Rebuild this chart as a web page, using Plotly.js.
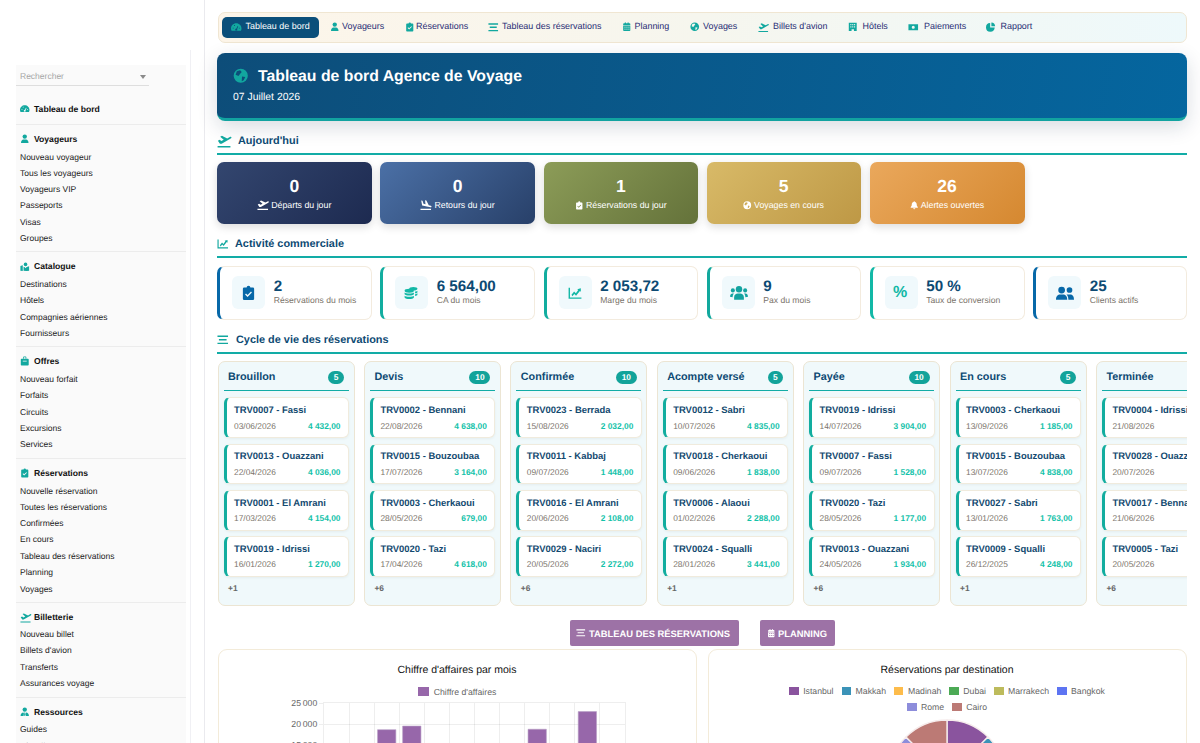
<!DOCTYPE html>
<html lang="fr"><head><meta charset="utf-8"><title>Tableau de bord Agence de Voyage</title>
<script src="https://cdn.plot.ly/plotly-3.0.1.min.js"></script>
<style>
html,body{margin:0;padding:0;background:#fff;width:1200px;height:743px;overflow:hidden;font-family:"Liberation Sans",Arial,sans-serif;text-rendering:geometricPrecision}
#root{position:absolute;left:0;top:0;width:1200px;height:743px;overflow:hidden}
.b{position:absolute;box-sizing:border-box}
.t{position:absolute;white-space:nowrap;line-height:1;transform:translateY(calc(-50% + .7px))}
.lg{position:absolute;display:flex;flex-wrap:wrap;justify-content:center;font-size:8.7px;color:#666;line-height:16px}
.lg span{display:flex;align-items:center;margin:0 4px;white-space:nowrap}
.lg i{display:inline-block;width:9.5px;height:8px;margin-right:4.5px}
svg{position:absolute;display:block;overflow:visible}
</style></head><body><div id="root"></div>
<script>
// ---- chart data ----
const months = ["Jan","Fév","Mar","Avr","Mai","Juin","Juil","Août","Sep","Oct","Nov","Déc"];
const revenue = [null,null,18650,19500,null,null,null,null,18750,null,22950,null];
const destinations = ["Istanbul","Makkah","Madinah","Dubai","Marrakech","Bangkok","Rome","Cairo"];
const destinationCounts = [1,1,1,1,1,1,1,1];
const destinationColors = ["#8a549e","#3b93b8","#fdbc4b","#4caa55","#bdbb5c","#5d74f2","#8d8ddb","#bc7a75"];
// ---- page text ----
const navLabels = ["Tableau de bord","Voyageurs","Réservations","Tableau des réservations","Planning","Voyages","Billets d'avion","Hôtels","Paiements","Rapport"];
const navIcons = ["gauge","user","clip","bars","cal","globe","dep","hotel","money","pie"];
const navIconX = [231,330,405,488,622,690,758,848,908,986];
const navTextX = [245.5,342,416,502,634.5,703,773,862.5,924,1000.5];
const todayValues = ["0","0","1","5","26"];
const todayLabels = ["Départs du jour","Retours du jour","Réservations du jour","Voyages en cours","Alertes ouvertes"];
const todayIcons = ["dep","arr","clip","globe","bell"];
const todayFrom = ["#33466f","#4b70a6","#8c9c58","#d8ba68","#eaa85c"];
const todayTo = ["#1d2a50","#284069","#64723a","#be9845","#d58830"];
const kpiValues = ["2","6 564,00","2 053,72","9","50 %","25"];
const kpiLabels = ["Réservations du mois","CA du mois","Marge du mois","Pax du mois","Taux de conversion","Clients actifs"];
const kpiIcons = ["clip","coins","line","group","pct","users"];
const kpiColors = ["#0768a8","#12ad9f","#12ad9f","#12a89d","#12b8a6","#0768a8"];
const cardX = [217,380,543.5,706.5,869.5,1033];
const cardW = [154.5,155,154.5,154,155,154];
const stageNames = ["Brouillon","Devis","Confirmée","Acompte versé","Payée","En cours","Terminée"];
const stageCounts = ["5","10","10","5","10","5","10"];
const stageMore = ["+1","+6","+6","+1","+6","+1","+6"];
const stageTitles = [
 ["TRV0007 - Fassi","TRV0013 - Ouazzani","TRV0001 - El Amrani","TRV0019 - Idrissi"],
 ["TRV0002 - Bennani","TRV0015 - Bouzoubaa","TRV0003 - Cherkaoui","TRV0020 - Tazi"],
 ["TRV0023 - Berrada","TRV0011 - Kabbaj","TRV0016 - El Amrani","TRV0029 - Naciri"],
 ["TRV0012 - Sabri","TRV0018 - Cherkaoui","TRV0006 - Alaoui","TRV0024 - Squalli"],
 ["TRV0019 - Idrissi","TRV0007 - Fassi","TRV0020 - Tazi","TRV0013 - Ouazzani"],
 ["TRV0003 - Cherkaoui","TRV0015 - Bouzoubaa","TRV0027 - Sabri","TRV0009 - Squalli"],
 ["TRV0004 - Idrissi","TRV0028 - Ouazzani","TRV0017 - Bennani","TRV0005 - Tazi"]];
const stageDates = [
 ["03/06/2026","22/04/2026","17/03/2026","16/01/2026"],
 ["22/08/2026","17/07/2026","28/05/2026","17/04/2026"],
 ["15/08/2026","09/07/2026","20/06/2026","20/05/2026"],
 ["10/07/2026","09/06/2026","01/02/2026","28/01/2026"],
 ["14/07/2026","09/07/2026","28/05/2026","24/05/2026"],
 ["13/09/2026","13/07/2026","13/01/2026","26/12/2025"],
 ["21/08/2026","20/07/2026","21/06/2026","20/05/2026"]];
const stageAmounts = [
 ["4 432,00","4 036,00","4 154,00","1 270,00"],
 ["4 638,00","3 164,00","679,00","4 618,00"],
 ["2 032,00","1 448,00","2 108,00","2 272,00"],
 ["4 835,00","1 838,00","2 288,00","3 441,00"],
 ["3 904,00","1 528,00","1 177,00","1 934,00"],
 ["1 185,00","4 838,00","1 763,00","4 248,00"],
 ["","","",""]];
const menuHeads = ["Tableau de bord","Voyageurs","Catalogue","Offres","Réservations","Billetterie","Ressources"];
const menuHeadIcons = ["gauge","user","map","case","clip","dep","tie"];
const menuHeadY = [109,139,266.5,361,473,617,712];
const menuDividerY = [124,251,346,458,602,697];
const menuItems = ["Nouveau voyageur","Tous les voyageurs","Voyageurs VIP","Passeports","Visas","Groupes","Destinations","Hôtels","Compagnies aériennes","Fournisseurs","Nouveau forfait","Forfaits","Circuits","Excursions","Services","Nouvelle réservation","Toutes les réservations","Confirmées","En cours","Tableau des réservations","Planning","Voyages","Nouveau billet","Billets d'avion","Transferts","Assurances voyage","Guides","Chauffeurs"];
const menuItemY = [157,173,189,205.5,222,238.5,284,300.5,317,333.5,379,395.5,412,428.5,444.5,491,507,523.5,539.5,556,572.5,589,634,650.5,667,683.5,729.5,746];

const IC = {
 gauge:'<path fill-rule="evenodd" d="M12 3C5.400 3 0 8.400 0 15c0 2 .5 3.800 1.400 5h21.200c.9-1.200 1.400-3 1.400-5 0-6.600-5.400-12-12-12zM10 16a2.300 2.300 0 1 0 4 0l2.500-6-1.500-.6-2.500 5.300h-.8zM4 13h2v2H4zM18 13h2v2h-2zM7 7h2v2H7z"/>',
 user:'<circle cx="12" cy="6.500" r="5.500"/><path d="M2.500 23c0-6 3-9 6-9h7c3 0 6 3 6 9z"/>',
 clip:'<path fill-rule="evenodd" d="M5 4h4a3 3 0 0 1 6 0h4a2 2 0 0 1 2 2v16a2 2 0 0 1-2 2H5a2 2 0 0 1-2-2V6a2 2 0 0 1 2-2zM10.500 19l-4-4 1.500-1.500 2.500 2.500 5.500-5.500 1.500 1.500z"/>',
 bars:'<path d="M1 3h22v3H1zM4 10.500h16v3H4zM1 18h22v3H1z"/>',
 cal:'<path fill-rule="evenodd" d="M3 9h18v12a2 2 0 0 1-2 2H5a2 2 0 0 1-2-2zM6 12v2h3v-2zM11 12v2h3v-2zM16 12v2h3v-2zM6 17v2h3v-2zM11 17v2h3v-2zM16 17v2h3v-2z"/><path d="M3 7.500V5a2 2 0 0 1 2-2h2V1h3v2h4V1h3v2h2a2 2 0 0 1 2 2v2.500z"/>',
 globe:'<path fill-rule="evenodd" d="M12 1a11 11 0 1 0 0 22 11 11 0 0 0 0-22zM6 5l5-1.500 2.500 2.500-3 3.500-2 3-4.500-2zM14 13l5 1-2.500 5-3 1.500z"/>',
 dep:'<path d="M1 20.500h22V23H1zM1.500 11.500l3-1.500 3 2 4-2-6-5.500 3-1.500 9 4.500 4.500-2.500c1.500-.8 2.500-.2 2.800.7.200.8-.3 1.500-1.300 2L8 16.500H5z"/>',
 arr:'<path d="M1 20.500h22V23H1zM2.500 3l2.800.8 2 6 4.200 1.200-1-8.500 2.800.8 5 9.700 4.200 1.200c1.500.4 1.700 1.600 1.300 2.300-.4.700-1.200.9-2.200.6L4.500 13.500z"/>',
 hotel:'<path fill-rule="evenodd" d="M2 2h20v21h-7v-5H9v5H2zM6 5v3h2.500V5zM10.800 5v3h2.500V5zM15.500 5v3H18V5zM6 11v3h2.500v-3zM10.800 11v3h2.500v-3zM15.500 11v3H18v-3z"/>',
 money:'<path fill-rule="evenodd" d="M1 5h22v14H1zM12 8.500a3.500 3.500 0 1 0 0 7 3.500 3.500 0 0 0 0-7z"/>',
 pie:'<path d="M10.500 2.500v11.500h11.500A11 11 0 1 1 10.500 2.500z"/><path d="M13.500 1a10 10 0 0 1 9.500 9.500h-9.500z"/>',
 bell:'<path d="M12 1a2 2 0 0 1 2 1.900c3.500.9 5 3.600 5 7.100 0 4 1.500 5.500 3 7v2H2v-2c1.500-1.500 3-3 3-7 0-3.500 1.500-6.200 5-7.100A2 2 0 0 1 12 1zM9 20.500h6a3 3 0 0 1-6 0z"/>',
 coins:'<ellipse cx="9" cy="8" rx="8" ry="3.400"/><ellipse cx="16" cy="4.500" rx="7" ry="3"/><path d="M1 11c2 2.500 14 2.500 16 0v3c-2 3-14 3-16 0zM1 16.500c2 2.500 14 2.500 16 0v3c-2 3.500-14 3.500-16 0zM19 9.500c2 0 4-1 4-2v3c0 1-2 2-4 2zM19 14c2 0 4-1 4-2v3c0 1-2 2-4 2z"/>',
 line:'<path d="M1 3h2.400v16.500H23V22H1zM6 15l4.500-5.500 3 3 4-5.500-1.700-1.500L22 4v6l-1.600-1.500-6.600 8-3-3-3.200 4z"/>',
 group:'<circle cx="12" cy="7" r="4.300"/><circle cx="3.800" cy="8.500" r="2.700"/><circle cx="20.200" cy="8.500" r="2.700"/><path d="M5.500 21v-3.500c0-3 2.500-4.800 5-4.800h3c2.500 0 5 1.800 5 4.800V21zM0 17c0-3 1.500-4.500 3.500-4.500h1.800C4 14 3.500 15.500 3.500 17.500zM24 17c0-3-1.500-4.500-3.500-4.500h-1.800c1.300 1.500 1.800 3 1.800 5z"/>',
 users:'<circle cx="7.500" cy="8" r="4.500"/><circle cx="18" cy="8" r="3.800"/><path d="M0 21c0-5 2.500-7 5.500-7h4c3 0 5.500 2 5.500 7zM16.500 21c0-3-.8-5.300-2.500-7h5c2.800 0 5 2 5 7z"/>',
 map:'<circle cx="14" cy="6" r="4.500"/><path d="M1 10l6-2v15l-6-1zM9 12l3 1 2 3 2-3 3-1 4-1v11l-6 1-8-1z"/>',
 case:'<path fill-rule="evenodd" d="M4 7h16a2 2 0 0 1 2 2v13a2 2 0 0 1-2 2H4a2 2 0 0 1-2-2V9a2 2 0 0 1 2-2zM7 12v2h10v-2z"/><path d="M8 7V3a2 2 0 0 1 2-2h4a2 2 0 0 1 2 2v4h-2V3h-4v4z"/>',
 tie:'<circle cx="12" cy="6.500" r="5.500"/><path d="M1.500 23c0-6 3-9 7-9l1.500 2.500-1 6.500zM22.500 23c0-6-3-9-7-9L14 16.500l1 6.500zM10.700 14h2.600l-.3 2 .8 5-1.800 2-1.800-2 .8-5z"/>'
};
const root = document.getElementById('root');
function box(x,y,w,h,css,parent){const d=document.createElement('div');d.className='b';d.style.cssText=`left:${x}px;top:${y}px;width:${w}px;height:${h}px;${css||''}`;(parent||root).appendChild(d);return d;}
function txt(x,y,s,size,color,bold,extra,parent){const d=document.createElement('div');d.className='t';d.textContent=s;d.style.cssText=`left:${x}px;top:${y}px;font-size:${size}px;color:${color};font-weight:${bold?700:400};${extra||''}`;(parent||root).appendChild(d);return d;}
function ctr(x,y,w,s,size,color,bold){return txt(x,y,s,size,color,bold,`width:${w}px;text-align:center`);}
function icon(name,x,cy,w,color,parent){const d=document.createElementNS('http://www.w3.org/2000/svg','svg');d.setAttribute('viewBox','0 0 24 24');d.setAttribute('width',w);d.setAttribute('height',w);d.style.cssText=`left:${x}px;top:${cy-w/2}px;fill:${color}`;d.innerHTML=IC[name];(parent||root).appendChild(d);return d;}

const TEAL='#12aca6',NAVY='#0d4a73';
// sidebar
box(16,65,170,690,'background:#fafafa');
box(190,50,1,693,'background:#f0f0f4');
box(203.500,0,1,743,'background:#eaeaee');
txt(20,75.500,'Rechercher',8.500,'#a6a6a6');
box(16,84.500,133,1,'background:#dedede');
box(139.500,74.500,0,0,'border-left:3px solid transparent;border-right:3px solid transparent;border-top:4px solid #8a8a8a');
menuDividerY.forEach(y=>box(16,y,170,1,'background:#ececec'));
menuHeads.forEach((h,i)=>{icon(menuHeadIcons[i],20,menuHeadY[i],i==5?11:9.500,'#12a89f');txt(34,menuHeadY[i]-.5,h,8.600,'#111',true);});
menuItems.forEach((h,i)=>txt(20,menuItemY[i]-.5,h,8.500,'#222'));
// nav
box(217.500,12,969.500,30.500,'border:1px solid #f0e6d2;border-radius:7px;background:linear-gradient(90deg,#fdf5e9,#f6f6ee 50%,#eef9fb)');
box(222,16.500,97,21,'background:#0b4f7a;border-radius:5px');
navLabels.forEach((n,i)=>{icon(navIcons[i],navIconX[i],27,i==6||i==8||i==3||i==0?10.500:9.500,'#12a89f');txt(navTextX[i],26.200,n,8.950,i==0?'#fff':'#272c74');});
// hero
box(217,53,970,68,'background:linear-gradient(100deg,#0d4d79,#05669f);border-radius:8px;border-bottom:3px solid #12a3a0;box-shadow:0 6px 20px rgba(20,40,70,.16)');
icon('globe',233,75.500,15.500,'#12a69f');
txt(258,75.800,"Tableau de bord Agence de Voyage",15.800,'#fff',true);
txt(233,98,"07 Juillet 2026",10.400,'#fff');
// section heads
function section(name,ic,ix,iw,tx,y,ly){icon(ic,ix,y,iw,'#12a89f');txt(tx,y,name,10.900,NAVY,true);box(217,ly,970,2,'background:'+TEAL);}
section("Aujourd'hui",'dep',217,14,238,141,153);
section("Activité commerciale",'line',217,11.500,235,244,256);
section("Cycle de vie des réservations",'bars',217,11.500,236,340,352);
// today cards
todayValues.forEach((v,i)=>{
 box(cardX[i],162,cardW[i],61.500,`background:linear-gradient(135deg,${todayFrom[i]},${todayTo[i]});border-radius:7px;box-shadow:0 3px 8px rgba(0,0,0,.14)`);
 ctr(cardX[i],186,cardW[i],v,17.500,'#fff',true);
 const iw=i<2?11.500:8.500;
 const l=txt(0,205.200,todayLabels[i],8.800,'#fff');
 const real=l.getBoundingClientRect().width;
 const sx=cardX[i]+cardW[i]/2-(real+iw+2.500)/2;
 l.style.left=(sx+iw+2.500)+'px';
 icon(todayIcons[i],sx,205,iw,'#fff');
});
// kpi cards
kpiValues.forEach((v,i)=>{
 box(cardX[i],265.500,cardW[i],54,`background:#fff;border:1px solid #f3ebde;border-left:3px solid ${kpiColors[i]};border-radius:7px`);
 box(cardX[i]+15,276,33,33,'background:#f0f9fc;border-radius:6px');
 if(kpiIcons[i]=='pct') txt(cardX[i]+23.500,292,'%',16,'#12b8a6',true);
 else icon(kpiIcons[i],cardX[i]+(kpiIcons[i]=='clip'?23.500:kpiIcons[i]=='users'?22.500:kpiIcons[i]=='group'?23:24),292.500,kpiIcons[i]=='clip'?15:kpiIcons[i]=='group'||kpiIcons[i]=='users'?18:14,['clip','users'].includes(kpiIcons[i])?'#0768a8':kpiIcons[i]=='group'?'#12a3a0':'#12b8a6');
 txt(cardX[i]+56.700,285.500,v,15.200,NAVY,true);
 txt(cardX[i]+56.700,299.800,kpiLabels[i],8.600,'#7b746b');
});
// kanban
const cardTop=[397,443.500,490,536], cardH=[40.500,40.500,40.500,40.500], titleY=[409.800,456.300,502.800,548.800], dateY=[425.500,471.500,518,564];
const clip=box(0,0,1187,743,'overflow:hidden');
stageNames.forEach((n,i)=>{
 const x=217.500+i*146.400;
 box(x,361,137,244.500,'background:#f0f9fb;border:1px solid #ece5d3;border-radius:7px',clip);
 txt(x+10.500,377,n,10.800,NAVY,true,'',clip);
 const bw=stageCounts[i].length>1?21:15.700;
 const bd=box(x+126.500-bw,370.500,bw,13,'background:#12a39a;border-radius:7px;color:#fff;font-weight:700;font-size:8.400px;line-height:13px;text-align:center',clip);
 bd.textContent=stageCounts[i];
 box(x+6,389.500,125,1.500,'background:'+TEAL,clip);
 stageTitles[i].forEach((t,j)=>{
  box(x+6,cardTop[j],125.500,cardH[j],'background:#fff;border:1px solid #f0ebdd;border-left:3px solid #12ad9f;border-radius:6px;box-shadow:0 1px 3px rgba(0,0,0,.05)',clip);
  txt(x+16.500,titleY[j],t,9.450,'#134a70',true,'',clip);
  txt(x+16.500,dateY[j],stageDates[i][j],8.400,'#7b746b',false,'',clip);
  if(stageAmounts[i][j]) txt(x+16.500,dateY[j],stageAmounts[i][j],8.400,'#12c2a9',true,'width:106.500px;text-align:right',clip);
 });
 txt(x+10.500,588,stageMore[i],8.400,'#666',true,'',clip);
});
// buttons
box(569.500,620,169,26,'background:#9d72a6;border-radius:2px');
icon('bars',576,633,9.500,'#fff');
txt(589,632.500,"TABLEAU DES RÉSERVATIONS",9.400,'#fff',true);
box(760,620,75,26,'background:#9d72a6;border-radius:2px');
icon('cal',767,633,8.500,'#fff');
txt(778,632.500,"PLANNING",9.400,'#fff',true);
// chart cards
box(217.500,649,479.500,260,'background:#fff;border:1px solid #f3ebd9;border-radius:9px');
box(707.500,649,479.500,260,'background:#fff;border:1px solid #f3ebd9;border-radius:9px');
function holder(id,x,y,w,h){const d=box(x,y,w,h,'');d.id=id;return d;}
holder('barChart',217,649,480,200);
holder('pieChart',707,649,480,220);
// chart legends (wrapped and centred like the source chart's)
const lg1=box(217,683.500,480,16,'');lg1.className='lg';
lg1.innerHTML=`<span><i style="background:#9767aa;width:11.500px;height:9px"></i>Chiffre d'affaires</span>`;
const lg2=box(777,683,340,32,'');lg2.className='lg';
lg2.innerHTML=destinations.map((d,i)=>`<span><i style="background:${destinationColors[i]}"></i>${d}</span>`).join('');

const grid='rgba(0,0,0,.065)';
Plotly.newPlot('barChart',[{type:'bar',x:months,y:revenue,name:"Chiffre d'affaires",
 marker:{color:'#9767aa',line:{color:'#b9a0c6',width:.6}}}],{
 width:480,height:200,paper_bgcolor:'rgba(0,0,0,0)',plot_bgcolor:'rgba(0,0,0,0)',showlegend:false,bargap:.27,separators:',\u2009',
 margin:{l:107,r:72,t:53.700,b:41.300},
 title:{text:"Chiffre d'affaires par mois",font:{family:'Liberation Sans',size:10.500,color:'#111'},x:.5,xref:'container',xanchor:'center',y:.9,yref:'container',yanchor:'middle'},
 font:{family:'Liberation Sans',size:8.700,color:'#666'},
 xaxis:{type:'category',categoryorder:'array',categoryarray:months,tickson:'boundaries',showgrid:true,gridcolor:grid,gridwidth:1,ticks:'outside',ticklen:4,tickcolor:grid,linecolor:grid,showline:true,mirror:true,fixedrange:true,tickangle:0},
 yaxis:{range:[0,25000],dtick:5000,tickformat:',d',showgrid:true,gridcolor:grid,ticks:'outside',ticklen:4,tickcolor:grid,linecolor:grid,showline:true,mirror:true,zeroline:false,fixedrange:true}
},{staticPlot:true,displayModeBar:false});
Plotly.newPlot('pieChart',[{type:'pie',labels:destinations,values:destinationCounts,sort:false,direction:'clockwise',rotation:0,textinfo:'none',
 marker:{colors:destinationColors,line:{color:'#f6ecec',width:1.400}}}],{
 width:480,height:220,paper_bgcolor:'rgba(0,0,0,0)',showlegend:false,
 margin:{l:75,r:75,t:71,b:33},
 title:{text:"Réservations par destination",font:{family:'Liberation Sans',size:10.500,color:'#111'},x:.5,xref:'container',xanchor:'center',y:.909,yref:'container',yanchor:'middle'},
 font:{family:'Liberation Sans'}
},{staticPlot:true,displayModeBar:false});
</script></body></html>
